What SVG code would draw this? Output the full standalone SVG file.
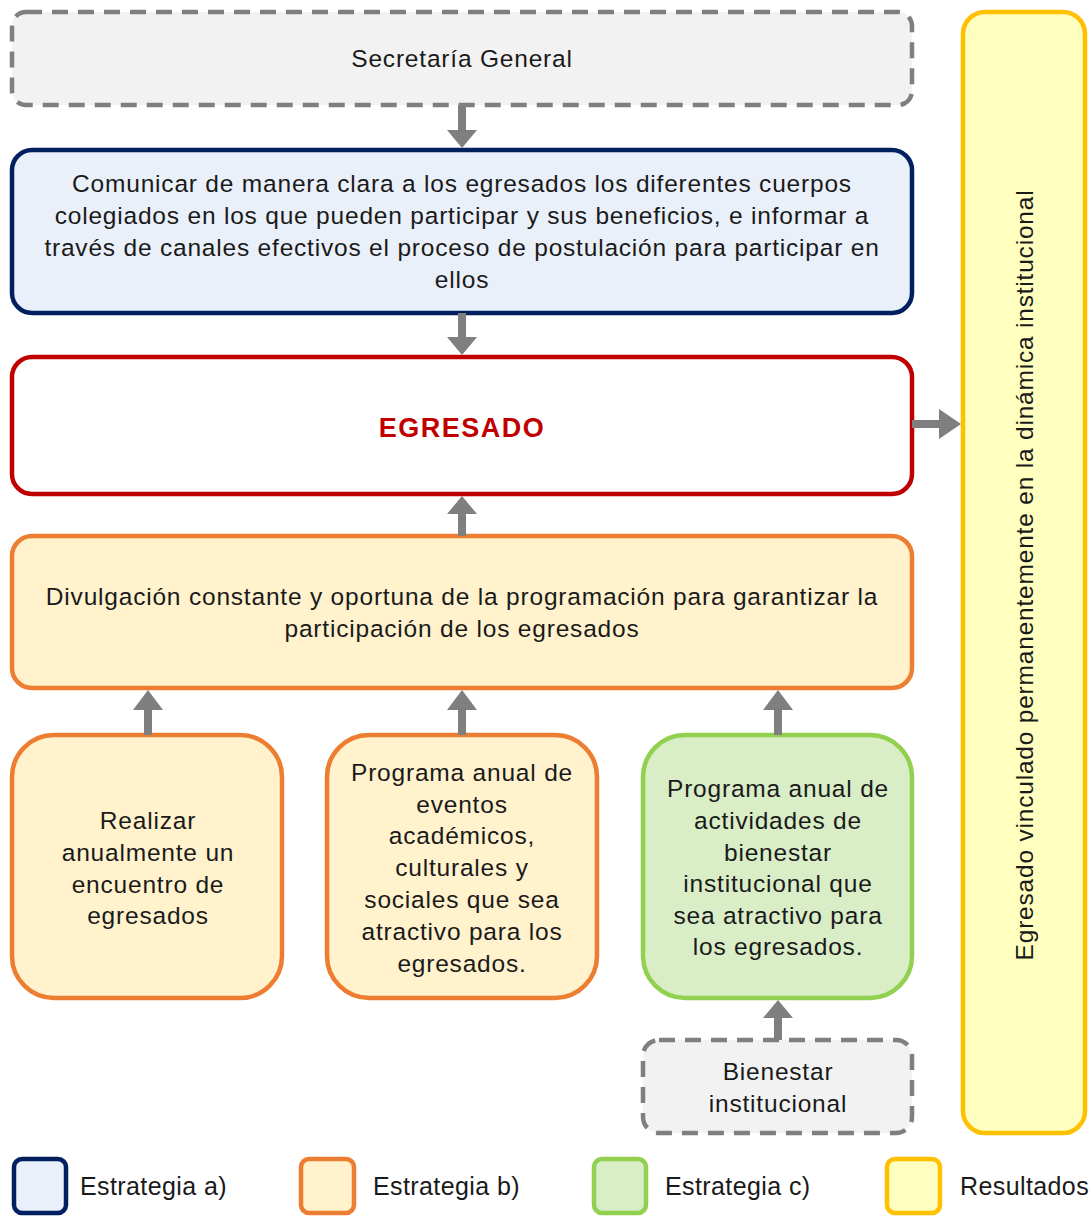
<svg xmlns="http://www.w3.org/2000/svg" width="1092" height="1216" viewBox="0 0 1092 1216">
<defs>
<style>
text{font-family:"Liberation Sans",Arial,sans-serif;font-size:24.5px;letter-spacing:0.8px;fill:#1a1a1a;text-anchor:middle}
.dash{fill:#f2f2f2;stroke:#7f7f7f;stroke-width:4.5;stroke-dasharray:16 10}
.blue{fill:#eaf0f9;stroke:#002060;stroke-width:4.5}
.red{fill:#ffffff;stroke:#c00000;stroke-width:4.5}
.org{fill:#fff2cc;stroke:#ed7d31;stroke-width:4.5}
.grn{fill:#d9edc7;stroke:#92d050;stroke-width:4.5}
.yel{fill:#ffffbf;stroke:#ffc000;stroke-width:4.5}
.arr{fill:#7f7f7f}
.leg{text-anchor:start;font-size:25px;letter-spacing:0.4px}
</style>
</defs>
<g id="secretaria"><rect class="dash" x="12" y="12" width="900" height="93" rx="14"/><text x="462" y="67">Secretaría General</text></g>
<g id="estrategia-a"><rect class="blue" x="12" y="150" width="900" height="163" rx="20"/>
<text x="462" y="192">Comunicar de manera clara a los egresados los diferentes cuerpos</text>
<text x="462" y="224">colegiados en los que pueden participar y sus beneficios, e informar a</text>
<text x="462" y="256">través de canales efectivos el proceso de postulación para participar en</text>
<text x="462" y="288">ellos</text></g>
<g id="egresado"><rect class="red" x="12" y="357" width="900" height="137" rx="20"/><text x="462" y="437" style="font-weight:bold;fill:#c00000;font-size:27px;letter-spacing:1.5px">EGRESADO</text></g>
<g id="divulgacion"><rect class="org" x="12" y="536" width="900" height="152" rx="20"/>
<text x="462" y="605">Divulgación constante y oportuna de la programación para garantizar la</text>
<text x="462" y="637">participación de los egresados</text></g>
<g id="encuentro"><rect class="org" x="12" y="735" width="270" height="263" rx="42"/>
<text x="148" y="829">Realizar</text><text x="148" y="861">anualmente un</text><text x="148" y="893">encuentro de</text><text x="148" y="924">egresados</text></g>
<g id="eventos"><rect class="org" x="327" y="735" width="270" height="263" rx="42"/>
<text x="462" y="781">Programa anual de</text><text x="462" y="813">eventos</text><text x="462" y="844">académicos,</text><text x="462" y="876">culturales y</text><text x="462" y="908">sociales que sea</text><text x="462" y="940">atractivo para los</text><text x="462" y="972">egresados.</text></g>
<g id="bienestar-prog"><rect class="grn" x="643" y="735" width="269" height="263" rx="42"/>
<text x="778" y="797">Programa anual de</text><text x="778" y="829">actividades de</text><text x="778" y="861">bienestar</text><text x="778" y="892">institucional que</text><text x="778" y="924">sea atractivo para</text><text x="778" y="955">los egresados.</text></g>
<g id="bienestar"><rect class="dash" x="643" y="1040" width="269" height="93" rx="16"/>
<text x="778" y="1080">Bienestar</text><text x="778" y="1112">institucional</text></g>
<g id="resultado"><rect class="yel" x="963" y="12" width="122" height="1121" rx="22"/>
<text transform="translate(1033 575) rotate(-90)">Egresado vinculado permanentemente en la dinámica institucional</text></g>
<g id="connectors">
<path class="arr" d="M458 105h8v25h11l-15 18l-15-18h11z"/>
<path class="arr" d="M458 313h8v24h11l-15 18l-15-18h11z"/>
<path class="arr" d="M458 536h8v-22h11l-15-18l-15 18h11z"/>
<path class="arr" d="M144 735h8v-25h11l-15-20l-15 20h11z"/>
<path class="arr" d="M458 735h8v-25h11l-15-20l-15 20h11z"/>
<path class="arr" d="M774 735h8v-25h11l-15-20l-15 20h11z"/>
<path class="arr" d="M774 1040h8v-22h11l-15-18l-15 18h11z"/>
<path class="arr" d="M912 420v8h27v11l22-15l-22-15v11z"/>
</g>
<g id="legend">
<rect class="blue" x="14" y="1159" width="52" height="54" rx="8"/><text class="leg" x="80" y="1195">Estrategia a)</text>
<rect class="org" x="301" y="1159" width="53" height="54" rx="8"/><text class="leg" x="373" y="1195">Estrategia b)</text>
<rect class="grn" x="594" y="1159" width="52" height="54" rx="8"/><text class="leg" x="665" y="1195">Estrategia c)</text>
<rect class="yel" x="887" y="1159" width="53" height="54" rx="8"/><text class="leg" x="960" y="1195">Resultados</text>
</g>
</svg>
